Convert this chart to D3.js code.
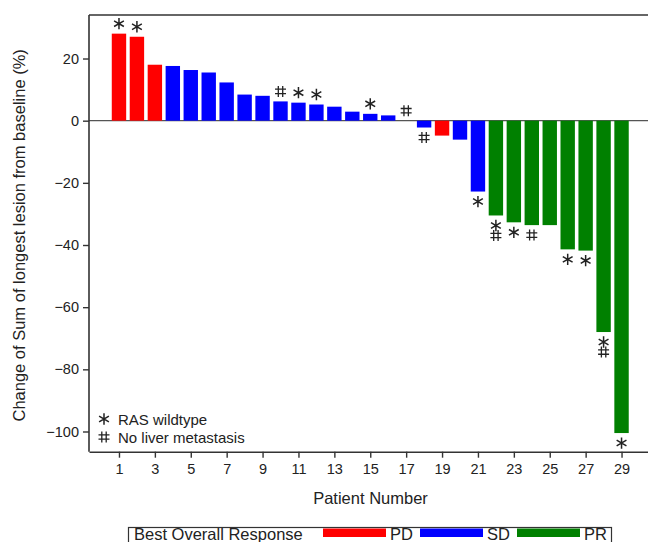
<!DOCTYPE html>
<html><head><meta charset="utf-8">
<script src="https://cdn.jsdelivr.net/npm/d3@7"></script>
<style>
body{margin:0;background:#fff;}
svg text{font-family:"Liberation Sans",Arial,sans-serif;fill:#222;}
</style></head>
<body><svg id="c" width="648" height="542"></svg>
<script>
const patients = d3.range(1, 30);
const values = [28, 27, 18, 17.6, 16.3, 15.5, 12.3, 8.4, 8.0, 6.2, 5.8, 5.2, 4.5, 2.9, 2.2, 1.7, 0,
  -2.2, -4.8, -6.1, -22.8, -30.5, -32.7, -33.6, -33.6, -41.4, -41.8, -68, -100.5];
const responses = ["PD","PD","PD","SD","SD","SD","SD","SD","SD","SD","SD","SD","SD","SD","SD","SD","SD",
  "SD","PD","SD","SD","PR","PR","PR","PR","PR","PR","PR","PR"];
const rasWildtype = [1, 2, 11, 12, 15, 21, 22, 23, 26, 27, 28, 29];
const noLiverMet = [10, 17, 18, 22, 24, 28];
const yTicks = [-100, -80, -60, -40, -20, 0, 20];
const xTicks = d3.range(1, 30, 2);
const legendKeys = ["PD", "SD", "PR"];
const legendColors = ["#ff0000", "#0000ff", "#008000"];

const svg = d3.select("#c");
const L = 89, R = 670, T = 15, B = 451.7;
const x = d3.scaleLinear().domain([-0.67, 31.7]).range([L, R]);
const y = d3.scaleLinear().domain([-106.5, 34]).range([B, T]);
const color = d3.scaleOrdinal().domain(legendKeys).range(legendColors);
const barW = 14.4;

const data = patients.map((p, i) => ({p, v: values[i], r: responses[i]}));

// zero reference line
svg.append("line").attr("x1", L).attr("x2", R).attr("y1", y(0)).attr("y2", y(0))
  .attr("stroke", "#555").attr("stroke-width", 1.2);

// bars
svg.append("g").selectAll("rect").data(data.filter(d => d.v !== 0)).join("rect")
  .attr("x", d => x(d.p) - barW / 2).attr("width", barW)
  .attr("y", d => y(Math.max(0, d.v))).attr("height", d => Math.abs(y(d.v) - y(0)))
  .attr("fill", d => color(d.r));

// markers
const star = d3.symbol().type(d3.symbolAsterisk).size(90);
function starPath(g) {
  g.attr("d", star()).attr("fill", "none").attr("stroke", "#222").attr("stroke-width", 1.5);
}
const hashPath = "M-2.2,-5.5V5.5M2.2,-5.5V5.5M-5.5,-2.2H5.5M-5.5,2.2H5.5";
function hash(g) {
  g.attr("d", hashPath).attr("fill", "none").attr("stroke", "#222").attr("stroke-width", 1.3);
}
const marks = [];
data.forEach(d => {
  let k = 0;
  const dir = d.v > 0 || (d.v === 0 && d.p < 18) ? -1 : 1;
  const edge = y(d.v);
  if (rasWildtype.includes(d.p)) { marks.push({type: "s", x: x(d.p), y: edge + dir * (10 + 10 * k)}); k++; }
  if (noLiverMet.includes(d.p)) { marks.push({type: "h", x: x(d.p), y: edge + dir * (10 + 10 * k)}); k++; }
});
const mg = svg.append("g");
mg.selectAll("path.s").data(marks.filter(m => m.type === "s")).join("path").attr("class", "s")
  .attr("transform", m => `translate(${m.x},${m.y})`).call(starPath);
mg.selectAll("path.h").data(marks.filter(m => m.type === "h")).join("path").attr("class", "h")
  .attr("transform", m => `translate(${m.x},${m.y})`).call(hash);

// axes
const yAxis = svg.append("g").attr("transform", `translate(${L},0)`)
  .call(d3.axisLeft(y).tickValues(yTicks).tickSize(6).tickPadding(4).tickSizeOuter(0));
const xAxis = svg.append("g").attr("transform", `translate(0,${B})`)
  .call(d3.axisBottom(x).tickValues(xTicks).tickSize(6).tickPadding(6).tickSizeOuter(0));
[yAxis, xAxis].forEach(a => {
  a.select(".domain").attr("stroke", "#333").attr("stroke-width", 1.6);
  a.selectAll(".tick line").attr("stroke", "#333").attr("stroke-width", 1.4);
  a.selectAll(".tick text").attr("font-size", 14.5).attr("fill", "#222")
    .attr("font-family", "'Liberation Sans',Arial,sans-serif");
});
svg.append("line").attr("x1", L).attr("x2", R).attr("y1", T).attr("y2", T)
  .attr("stroke", "#333").attr("stroke-width", 1.6);
yAxis.select(".domain").attr("d", `M0,${T}V${B}`);

// titles
svg.append("text").attr("transform", `translate(25,${(T + B) / 2 + 2}) rotate(-90)`)
  .attr("text-anchor", "middle").attr("font-size", 16.5)
  .text("Change of Sum of longest lesion from baseline (%)");
svg.append("text").attr("x", 370.5).attr("y", 504).attr("text-anchor", "middle")
  .attr("font-size", 16.5).text("Patient Number");

// inset legend
svg.append("path").attr("transform", "translate(104,419)").call(starPath);
svg.append("text").attr("x", 118).attr("y", 425).attr("font-size", 15).text("RAS wildtype");
svg.append("path").attr("transform", "translate(104,437)").call(hash);
svg.append("text").attr("x", 118).attr("y", 443).attr("font-size", 15).text("No liver metastasis");

// bottom legend
const lg = svg.append("g");
lg.append("rect").attr("x", 128.5).attr("y", 527.5).attr("width", 483).attr("height", 24)
  .attr("fill", "none").attr("stroke", "#333").attr("stroke-width", 1.2);
lg.append("text").attr("x", 134).attr("y", 539.5).attr("font-size", 16.5).text("Best Overall Response");
const swX = [323, 420, 517];
legendKeys.forEach((k, i) => {
  lg.append("rect").attr("x", swX[i]).attr("y", 528.5).attr("width", 63).attr("height", 8.5)
    .attr("fill", color(k));
  lg.append("text").attr("x", swX[i] + 67).attr("y", 539.5).attr("font-size", 16.5).text(k);
});
</script></body></html>
